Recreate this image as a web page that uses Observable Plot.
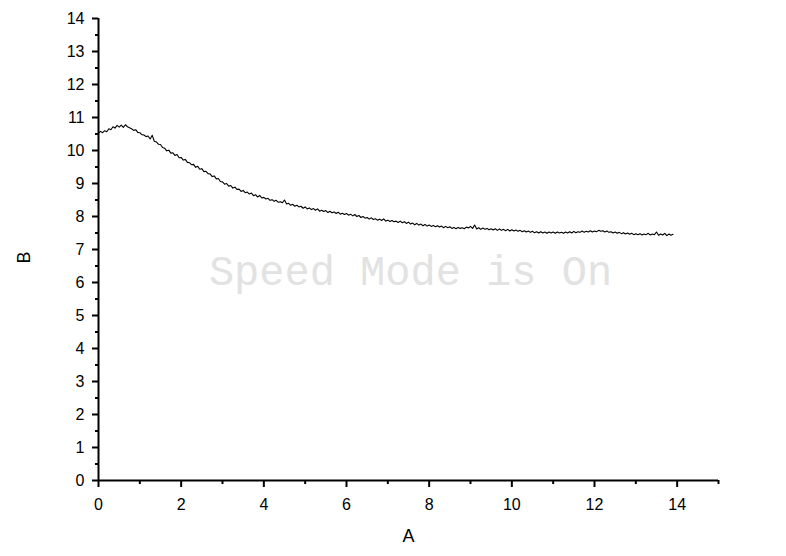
<!DOCTYPE html>
<html>
<head>
<meta charset="utf-8">
<script src="https://cdn.jsdelivr.net/npm/d3@7"></script>
<script src="https://cdn.jsdelivr.net/npm/@observablehq/plot@0.6"></script>
<style>
  html, body { margin: 0; padding: 0; background: #fff; }
  #chart { width: 786px; height: 556px; }
  #chart svg text { font-size: 16px; }
</style>
</head>
<body>
<div id="chart"></div>
<script>
const aStart = 0, aStep = 0.05;
const bValues = [
  10.53, 10.58, 10.54, 10.60, 10.57, 10.66, 10.63, 10.72, 10.68, 10.76,
  10.71, 10.77, 10.70, 10.78, 10.72, 10.69, 10.66, 10.61, 10.63, 10.55,
  10.54, 10.48, 10.47, 10.42, 10.44, 10.35, 10.46, 10.28, 10.26, 10.19,
  10.18, 10.09, 10.07, 9.99, 10.01, 9.92, 9.93, 9.85, 9.88, 9.78,
  9.79, 9.71, 9.73, 9.64, 9.63, 9.57, 9.58, 9.49, 9.52, 9.43,
  9.45, 9.36, 9.37, 9.30, 9.29, 9.21, 9.23, 9.14, 9.15, 9.06,
  9.05, 8.98, 9.00, 8.92, 8.94, 8.86, 8.89, 8.82, 8.83, 8.76,
  8.79, 8.72, 8.74, 8.68, 8.71, 8.63, 8.66, 8.59, 8.64, 8.56,
  8.58, 8.53, 8.55, 8.49, 8.51, 8.46, 8.49, 8.43, 8.45, 8.42,
  8.50, 8.38, 8.40, 8.34, 8.37, 8.31, 8.34, 8.29, 8.31, 8.25,
  8.29, 8.23, 8.26, 8.21, 8.24, 8.19, 8.23, 8.16, 8.19, 8.15,
  8.18, 8.12, 8.16, 8.11, 8.14, 8.09, 8.13, 8.07, 8.10, 8.06,
  8.09, 8.04, 8.07, 8.02, 8.06, 8.00, 8.03, 7.97, 8.00, 7.95,
  7.97, 7.92, 7.96, 7.91, 7.93, 7.89, 7.92, 7.88, 7.93, 7.86,
  7.89, 7.85, 7.88, 7.84, 7.86, 7.82, 7.86, 7.81, 7.84, 7.79,
  7.83, 7.77, 7.80, 7.75, 7.79, 7.74, 7.77, 7.72, 7.76, 7.71,
  7.74, 7.70, 7.73, 7.69, 7.72, 7.68, 7.71, 7.66, 7.70, 7.66,
  7.69, 7.64, 7.67, 7.63, 7.67, 7.64, 7.66, 7.63, 7.68, 7.65,
  7.70, 7.64, 7.74, 7.62, 7.66, 7.61, 7.65, 7.61, 7.64, 7.60,
  7.63, 7.59, 7.63, 7.58, 7.62, 7.58, 7.61, 7.57, 7.61, 7.56,
  7.60, 7.56, 7.59, 7.55, 7.58, 7.54, 7.57, 7.53, 7.56, 7.52,
  7.55, 7.51, 7.54, 7.50, 7.54, 7.50, 7.53, 7.49, 7.53, 7.50,
  7.53, 7.49, 7.53, 7.50, 7.52, 7.49, 7.53, 7.50, 7.54, 7.50,
  7.55, 7.51, 7.54, 7.52, 7.56, 7.52, 7.55, 7.53, 7.57, 7.53,
  7.56, 7.54, 7.58, 7.55, 7.57, 7.53, 7.56, 7.52, 7.54, 7.50,
  7.53, 7.49, 7.52, 7.48, 7.51, 7.47, 7.50, 7.46, 7.49, 7.45,
  7.48, 7.45, 7.48, 7.44, 7.47, 7.45, 7.49, 7.44, 7.47, 7.45,
  7.53, 7.43, 7.47, 7.44, 7.49, 7.42, 7.47, 7.43, 7.46
];
const xMajorTicks = [0, 2, 4, 6, 8, 10, 12, 14];
const xMinorTicks = [1, 3, 5, 7, 9, 11, 13, 15];
const yMajorTicks = [0, 1, 2, 3, 4, 5, 6, 7, 8, 9, 10, 11, 12, 13, 14];
const yMinorTicks = [0.5, 1.5, 2.5, 3.5, 4.5, 5.5, 6.5, 7.5, 8.5, 9.5, 10.5, 11.5, 12.5, 13.5];
const xTitle = "A";
const yTitle = "B";
const watermark = "Speed Mode is On";

const data = bValues.map((b, i) => ({ A: +(aStart + i * aStep).toFixed(2), B: b }));

const chart = Plot.plot({
  width: 786,
  height: 556,
  marginLeft: 98,
  marginRight: 68,
  marginTop: 18,
  marginBottom: 76,
  x: { domain: [0, 15] },
  y: { domain: [0, 14] },
  style: { fontFamily: "'Liberation Sans', Arial, sans-serif", fontSize: "16px", color: "#000", background: "#fff" },
  marks: [
    Plot.text([watermark], {
      frameAnchor: "middle", dx: 2, dy: 22,
      fontFamily: "'Liberation Mono', 'DejaVu Sans Mono', monospace",
      fontSize: 42, fill: "#e2e2e2"
    }),
    Plot.line(data, { x: "A", y: "B", stroke: "#000", strokeWidth: 1.1 }),
    Plot.axisX(xMajorTicks, { tickSize: 7, tickPadding: 11, strokeWidth: 2, label: null, fontSize: 16 }),
    Plot.axisX(xMinorTicks, { tickSize: 4, strokeWidth: 2, label: null, tickFormat: () => "" }),
    Plot.axisY(yMajorTicks, { tickSize: 6, tickPadding: 8, strokeWidth: 2, label: null, fontSize: 16 }),
    Plot.axisY(yMinorTicks, { tickSize: 3, strokeWidth: 2, label: null, tickFormat: () => "" }),
    Plot.ruleX([0], { stroke: "#000", strokeWidth: 2 }),
    Plot.ruleY([0], { stroke: "#000", strokeWidth: 2 }),
    Plot.text([xTitle], { frameAnchor: "bottom", dy: 61, fontSize: 18 }),
    Plot.text([yTitle], { frameAnchor: "left", dx: -74, dy: 14, rotate: -90, fontSize: 18 })
  ]
});
chart.querySelectorAll("text").forEach(t => {
  if (t.textContent === watermark) t.style.fontSize = "42px";
  else if (t.textContent === xTitle || t.textContent === yTitle) t.style.fontSize = "18px";
});
document.getElementById("chart").appendChild(chart);
</script>
</body>
</html>
